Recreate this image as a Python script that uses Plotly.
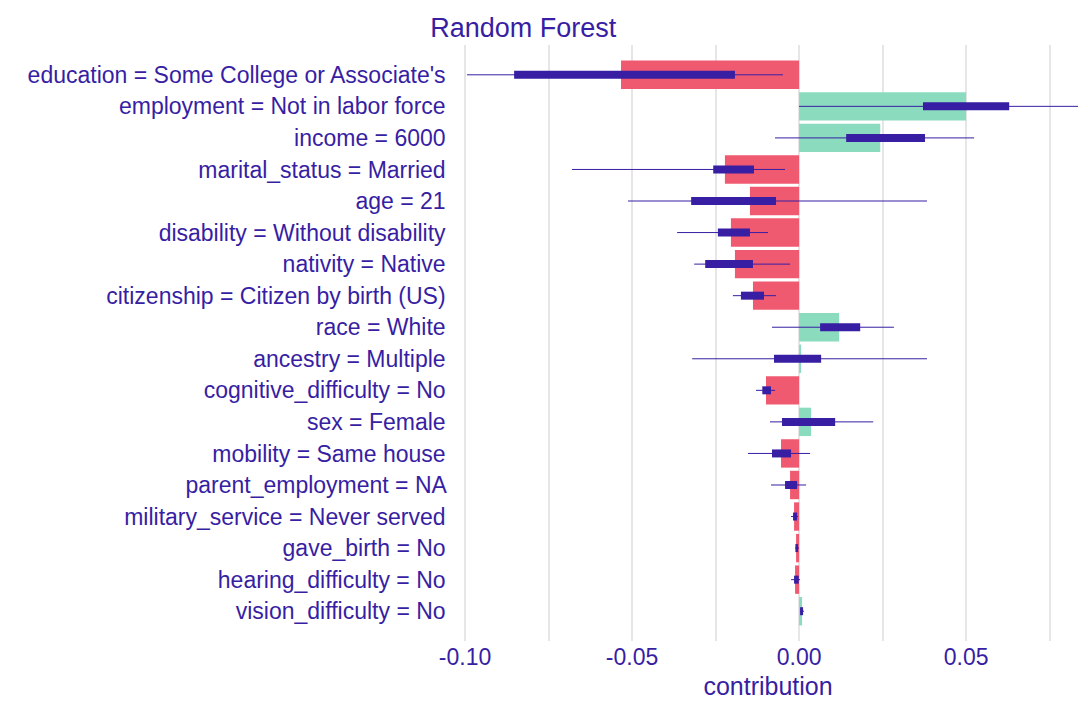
import plotly.graph_objects as go

labels = ["education = Some College or Associate's","employment = Not in labor force","income = 6000",
"marital_status = Married","age = 21","disability = Without disability","nativity = Native",
"citizenship = Citizen by birth (US)","race = White","ancestry = Multiple","cognitive_difficulty = No",
"sex = Female","mobility = Same house","parent_employment = NA","military_service = Never served",
"gave_birth = No","hearing_difficulty = No","vision_difficulty = No"]
mean = [-0.0533,0.050,0.0243,-0.0222,-0.0147,-0.0204,-0.0192,-0.0138,0.012,0.0006,-0.0099,0.0036,-0.0054,-0.0027,-0.0015,-0.0009,-0.0012,0.0009]
q1 = [-0.0853,0.0371,0.0141,-0.0257,-0.0323,-0.0243,-0.0281,-0.0174,0.0063,-0.0075,-0.011,-0.0051,-0.0081,-0.0042,-0.0018,-0.0011,-0.0015,0.0003]
q3 = [-0.0192,0.0629,0.0377,-0.0135,-0.0069,-0.0147,-0.0138,-0.0105,0.0183,0.0066,-0.0084,0.0108,-0.0024,-0.0006,-0.0006,-0.0003,-0.0001,0.0012]
lo = [-0.0994,0.0,-0.0072,-0.068,-0.0512,-0.0365,-0.0314,-0.0198,-0.0081,-0.032,-0.0129,-0.0087,-0.0153,-0.0084,-0.0024,-0.0012,-0.0024,0.0003]
hi = [-0.0048,0.0835,0.0524,-0.0042,0.0383,-0.0093,-0.0027,-0.0069,0.0284,0.0383,-0.0072,0.0222,0.0033,0.0021,-0.0003,0.0,0.0003,0.0015]

colors = ["#8bdcbe" if m > 0 else "#f05a71" for m in mean]
fig = go.Figure()
fig.add_trace(go.Bar(x=mean, y=labels, orientation="h", marker=dict(color=colors, line_width=0), showlegend=False))
wx, wy, bx, by = [], [], [], []
for i, l in enumerate(labels):
    wx += [lo[i], hi[i], None]; wy += [l, l, None]
    bx += [q1[i], q3[i], None]; by += [l, l, None]
fig.add_trace(go.Scatter(x=wx, y=wy, mode="lines", line=dict(color="#371ea3", width=1), showlegend=False))
fig.add_trace(go.Scatter(x=bx, y=by, mode="lines", line=dict(color="#371ea3", width=8), showlegend=False))

tv = [-0.1,-0.075,-0.05,-0.025,0,0.025,0.05,0.075]
tt = ["-0.10","","-0.05","","0.00","","0.05",""]
fig.update_layout(
    width=1088, height=705, plot_bgcolor="white", paper_bgcolor="white",
    margin=dict(l=445, r=13, t=37, b=72), bargap=0.1,
    font=dict(family="Arial", color="#371ea3", size=23),
    title=dict(text="Random Forest", x=0.388, xanchor="left", y=0.972, yanchor="middle", font=dict(size=27, color="#371ea3")),
    xaxis=dict(range=[-0.1036, 0.085], tickvals=tv, ticktext=tt, showgrid=True, gridcolor="#e6e6e6", gridwidth=1.5,
               zeroline=False, title=dict(text="contribution", font=dict(size=25), standoff=8), tickfont=dict(size=23)),
    yaxis=dict(autorange="reversed", showgrid=False, ticks="", ticksuffix=" ", tickfont=dict(size=23)),
)
fig.write_html("out.html")
